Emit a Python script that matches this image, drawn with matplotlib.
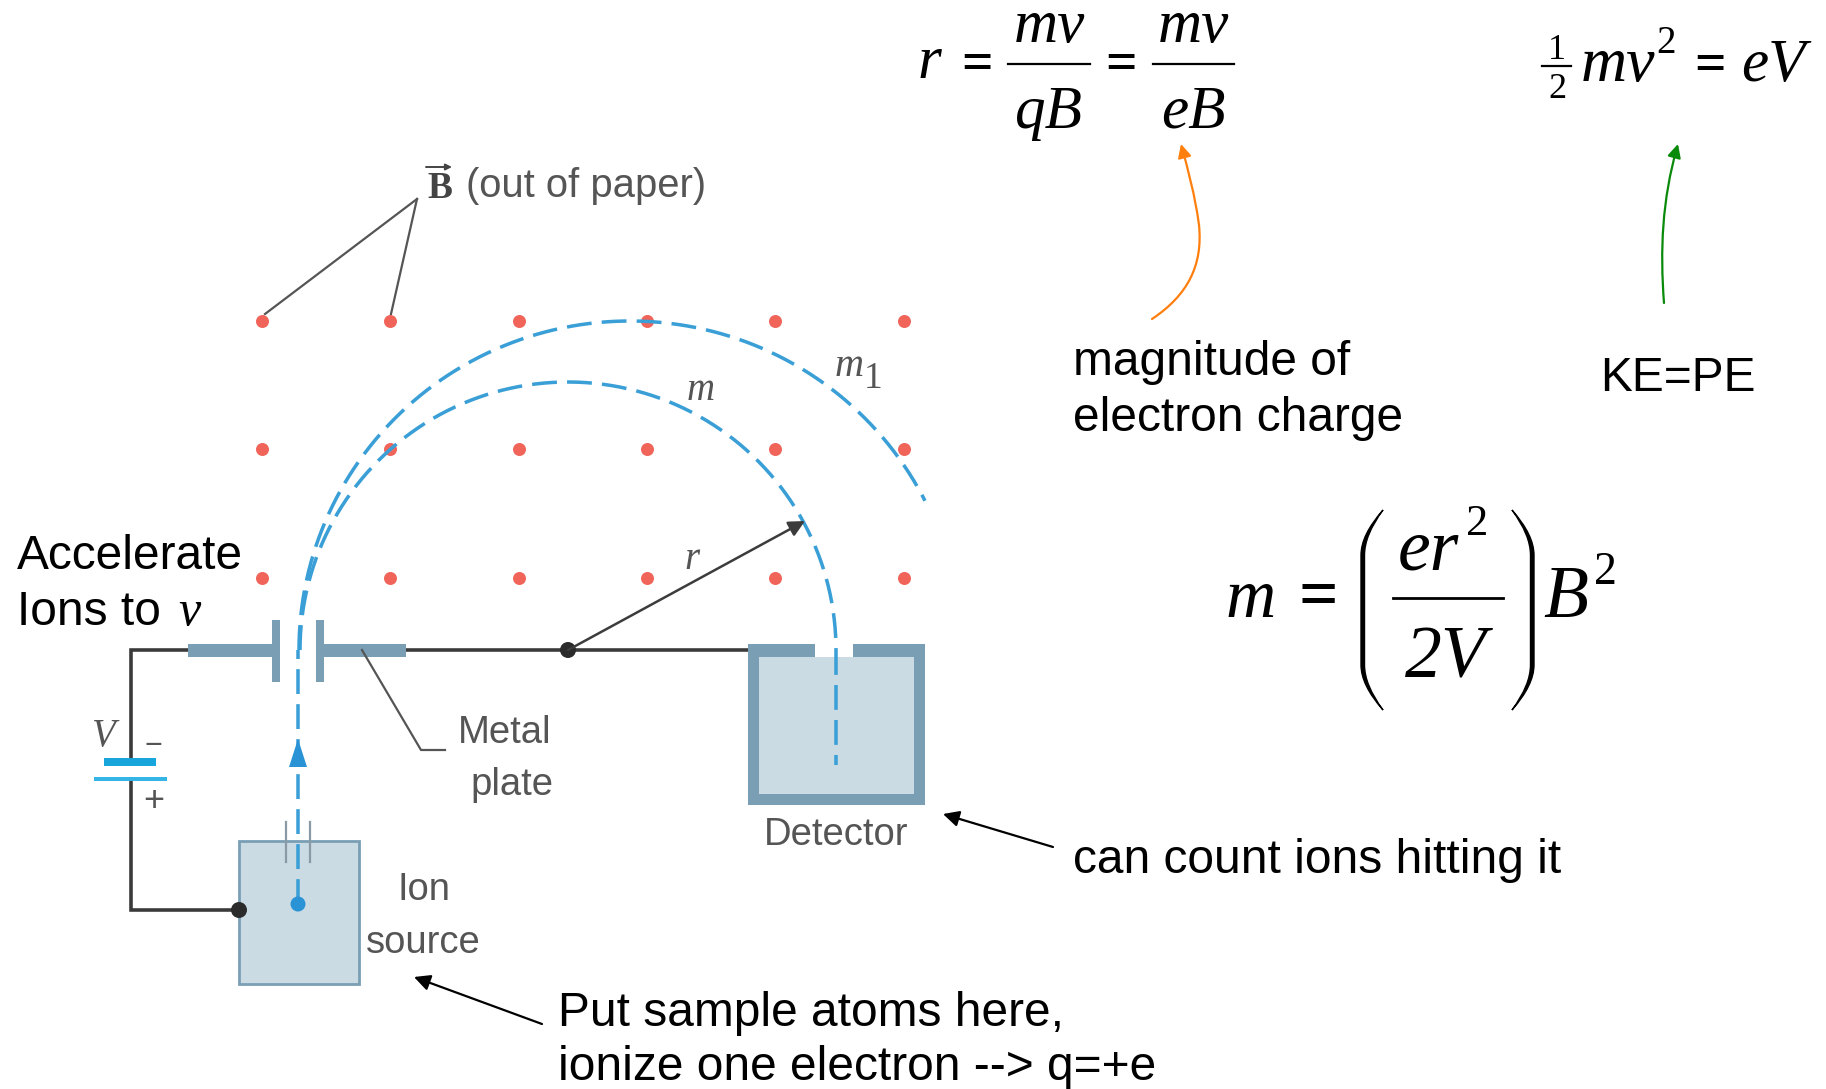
import numpy as np
import matplotlib
matplotlib.use("Agg")
import matplotlib.pyplot as plt
from matplotlib.patches import Rectangle, Circle, PathPatch, Polygon, FancyArrowPatch
from matplotlib.path import Path

# ---- diagram values (pixel-space readings from the picture) ----
field_x = [262, 390, 519, 647, 775, 904]
field_y = [321, 449, 578]
pivot = (568, 650)
radius_m = 268
left_edge = 299
radius_m1_x = 331
radius_m1_y = 329
end_m1_x = 925

black_labels = [
    ("Accelerate", 17, 569), ("Ions to ", 17, 625),
    ("magnitude of", 1073, 375), ("electron charge", 1073, 431),
    ("KE=PE", 1600, 391), ("can count ions hitting it", 1073, 873),
    ("Put sample atoms here,", 558, 1026),
    ("ionize one electron --> q=+e", 558, 1080),
]
gray_labels = [
    ("Metal", 505, 743), ("plate", 512, 795),
    ("Detector", 836, 845), ("Ion", 424, 900), ("source", 423, 953),
]
FRAME = "#7a9fb5"
FILL = "#cadbe4"
BLUE = "#3a9fd6"
RED = "#f0645a"
GRAY = "#555555"
WIRE = "#3a3a3a"

fig = plt.figure(figsize=(18.26, 10.89), dpi=100)
ax = fig.add_axes([0, 0, 1, 1])
ax.set_xlim(0, 1826)
ax.set_ylim(1089, 0)
ax.axis("off")
PX = 0.72  # points per pixel

SANS = "Liberation Sans"
SERIF = "Liberation Serif"


def eq(x, y, s, size, ha="left", style="italic", weight="normal", color="black"):
    ax.text(x, y, s, family=SERIF, style=style, weight=weight, fontsize=size,
            ha=ha, va="baseline", color=color)


# red field dots
xx, yy = np.meshgrid(field_x, field_y)
ax.scatter(xx.ravel(), yy.ravel(), s=(13 * PX) ** 2, color=RED, zorder=2, linewidths=0)

# B leader lines
for tx in (265, 391):
    ax.plot([417, tx], [199, 314], color=GRAY, lw=1.6, zorder=1)

# wires
wire_lw = 3.6 * PX
ax.plot([188, 131, 131], [650, 650, 758], color=WIRE, lw=wire_lw, zorder=1, solid_joinstyle="miter")
ax.plot([131, 131, 239], [779, 910, 910], color=WIRE, lw=wire_lw, zorder=1, solid_joinstyle="miter")
ax.plot([406, 748], [650, 650], color=WIRE, lw=wire_lw, zorder=1)

# plates
for x0, x1 in ((188, 276), (320, 406)):
    ax.add_patch(Rectangle((x0, 644), x1 - x0, 13, fc=FRAME, ec="none", zorder=3))
for x0 in (272, 316):
    ax.add_patch(Rectangle((x0, 620), 8, 62, fc=FRAME, ec="none", zorder=3))

# detector
ax.add_patch(Rectangle((748, 644), 177, 161, fc=FILL, ec="none", zorder=1))
ax.add_patch(Rectangle((815, 644), 38, 13, fc="white", ec="none", zorder=1.5))
for rect in ((748, 644, 67, 13), (853, 644, 72, 13), (748, 644, 11, 161),
             (914, 644, 11, 161), (748, 794, 177, 11)):
    ax.add_patch(Rectangle(rect[:2], rect[2], rect[3], fc=FRAME, ec="none", zorder=3))

# ion source
ax.add_patch(Rectangle((239, 841), 120, 143, fc=FILL, ec=FRAME, lw=2, zorder=1))
for x0 in (286, 310):
    ax.plot([x0, x0], [822, 862], color="#8a9aa5", lw=1.6, zorder=2)

# beam paths
beam = dict(color=BLUE, lw=3.5 * PX, linestyle=(0, (7.1, 2.9)), zorder=4)
th = np.linspace(np.pi, 0, 300)
ax.plot(pivot[0] + radius_m * np.cos(th), pivot[1] - radius_m * np.sin(th), **beam)
cx1 = left_edge + radius_m1_x
th1 = np.linspace(np.pi, np.arccos((end_m1_x - cx1) / radius_m1_x), 300)
ax.plot(cx1 + radius_m1_x * np.cos(th1), pivot[1] - radius_m1_y * np.sin(th1), **beam)
ax.plot([left_edge - 1, left_edge - 1], [904, 650], **beam)
ax.plot([836, 836], [650, 765], **beam)
ax.add_patch(Circle((298, 904), 7.5, fc="#2a93d5", ec="none", zorder=5))
ax.add_patch(Polygon([(298, 739), (307, 767), (289, 767)],
                     fc="#2a93d5", ec="none", zorder=5))

# battery
ax.add_patch(Rectangle((104, 758), 52, 8, fc="#17a5dc", ec="none", zorder=3))
ax.add_patch(Rectangle((94, 777), 73, 3.5, fc="#35b5e5", ec="none", zorder=3))

# pivot, junction
ax.add_patch(Circle(pivot, 8, fc="#2b2b2b", ec="none", zorder=5))
ax.add_patch(Circle((239, 910), 8, fc="#2b2b2b", ec="none", zorder=5))

# radius arrow
ax.add_patch(FancyArrowPatch(pivot, (805, 521), arrowstyle="-|>", mutation_scale=24,
                             color="#3c3c3c", lw=1.8, shrinkA=0, shrinkB=0, zorder=5))
# metal plate leader
ax.plot([362, 421, 445], [650, 750, 750], color=GRAY, lw=1.6, zorder=4)

# black annotation arrows
for tail, tip in (((1053, 847), (943, 814)), ((542, 1024), (414, 977))):
    ax.add_patch(FancyArrowPatch(tail, tip, arrowstyle="-|>", mutation_scale=24,
                                 color="black", lw=1.6, shrinkA=0, shrinkB=0, zorder=5))

# curved coloured arrows
orange_path = Path([(1152, 319), (1188, 295), (1203, 265), (1199, 225), (1195, 195), (1188, 170), (1181, 144)],
                   [Path.MOVETO] + [Path.CURVE4] * 6)
green_path = Path([(1664, 303), (1660, 250), (1662, 200), (1678, 144)],
                  [Path.MOVETO, Path.CURVE4, Path.CURVE4, Path.CURVE4])
ax.add_patch(FancyArrowPatch(path=orange_path, arrowstyle="-|>", mutation_scale=20,
                             color="#ff7f0e", lw=1.6, zorder=5))
ax.add_patch(FancyArrowPatch(path=green_path, arrowstyle="-|>", mutation_scale=20,
                             color="#0a8a0a", lw=1.6, zorder=5))

# black sans labels
for s, x, y in black_labels:
    ax.text(x, y, s, family=SANS, fontsize=34.5, ha="left", va="baseline", color="black")
eq(178, 625, "v", 36)

# gray labels
for s, x, y in gray_labels:
    ax.text(x, y, s, family=SANS, fontsize=27.5, ha="center", va="baseline", color=GRAY, zorder=6)
ax.text(586, 197, "(out of paper)", family=SANS, fontsize=28.8, ha="center", va="baseline", color=GRAY)
eq(427, 198, "B", 27, style="normal", weight="bold", color="#444444")
ax.add_patch(FancyArrowPatch((426, 167), (452, 167), arrowstyle="-|>", mutation_scale=9,
                             color="#444444", lw=1.4, shrinkA=0, shrinkB=0))
eq(104, 746, "V", 28, ha="center", color=GRAY)
ax.text(153, 754, "\u2212", family=SANS, fontsize=22, ha="center", va="baseline", color=GRAY)
ax.text(154, 811, "+", family=SANS, fontsize=26, ha="center", va="baseline", color=GRAY)
eq(701, 400, "m", 28, ha="center", color=GRAY)
eq(849, 376, "m", 29, ha="center", color=GRAY)
eq(873, 388, "1", 27, ha="center", style="normal", color=GRAY)
eq(692, 569, "r", 28, ha="center", color=GRAY)

# equation r = mv/qB = mv/eB
eq(918, 78, "r", 44)
for x in (977, 1121):
    eq(x, 80, "=", 40, ha="center", style="normal", weight="bold")
for x0, x1, cen, top, bottom in ((1008, 1090, 1049, "mv", "qB"), (1153, 1234, 1193, "mv", "eB")):
    ax.plot([x0, x1], [64, 64], color="black", lw=1.6)
    eq(cen, 42, top, 44, ha="center")
    eq(cen, 128, bottom, 44, ha="center")

# equation 1/2 mv^2 = eV
eq(1557, 59, "1", 26, ha="center", style="normal")
ax.plot([1542, 1571], [66, 66], color="black", lw=1.6)
eq(1557, 98, "2", 26, ha="center", style="normal")
eq(1581, 81, "mv", 46)
eq(1666, 53, "2", 28, ha="center", style="normal")
eq(1710, 81, "=", 40, ha="center", style="normal", weight="bold")
eq(1741, 81, "eV", 44)

# equation m = (er^2 / 2V) B^2
eq(1225, 617, "m", 50)
eq(1318, 617, "=", 50, ha="center", style="normal", weight="bold")
ax.plot([1393, 1503], [598, 598], color="black", lw=2.0)
eq(1398, 569, "er", 53)
eq(1466, 535, "2", 32, style="normal")
eq(1446, 677, "2V", 53, ha="center")
eq(1543, 617, "B", 53)
eq(1594, 584, "2", 33, style="normal")


def paren(x_tip, x_belly, thick):
    y0, y1, ya, yb = 510, 710, 555, 665
    verts = [(x_tip, y0), (x_belly, y0 + 25), (x_belly, ya), (x_belly, yb), (x_belly, y1 - 25), (x_tip, y1),
             (x_belly + thick, y1 - 25), (x_belly + thick, yb), (x_belly + thick, ya),
             (x_belly + thick, y0 + 25), (x_tip, y0)]
    codes = [Path.MOVETO, Path.CURVE3, Path.CURVE3, Path.LINETO, Path.CURVE3, Path.CURVE3,
             Path.CURVE3, Path.CURVE3, Path.LINETO, Path.CURVE3, Path.CURVE3]
    ax.add_patch(PathPatch(Path(verts, codes), fc="black", ec="black", lw=1.0))


paren(1383, 1361, 3.5)
paren(1512, 1534, -3.5)

fig.savefig("out.png", dpi=100, facecolor="white")
